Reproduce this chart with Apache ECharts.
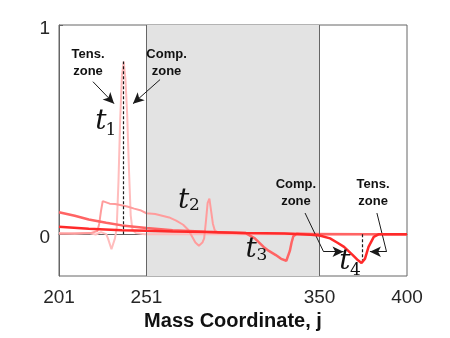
<!DOCTYPE html>
<html>
<head>
<meta charset="utf-8">
<script src="https://cdn.jsdelivr.net/npm/echarts@6/dist/echarts.min.js"></script>
<style>
  html, body { margin: 0; padding: 0; background: #fff; }
  #chart { width: 450px; height: 338px; }
</style>
</head>
<body>
<div id="chart"></div>
<script>
// mass coordinate ticks / value ticks
const xTicks = [201, 251, 350, 400];
const yTicks = [0, 1];

// t1 snapshot (lightest)
const t1J = [201, 210, 218, 222, 225, 228, 229, 231, 233, 234, 235, 236, 237, 238, 239, 240, 241, 242, 243, 245, 250, 300, 400];
const t1V = [0.005, 0.002, 0.005, -0.002, 0.01, 0.0, -0.02, -0.072, -0.02, 0.03, 0.25, 0.55, 0.76, 0.825, 0.74, 0.57, 0.31, 0.09, 0.02, 0.005, 0.0, 0.0, 0.0];

// t2 snapshot
const t2J = [201, 219, 223, 224, 225, 226, 230, 233, 236, 240, 244, 248, 251, 256, 260, 264, 268, 272, 275, 277, 279, 281, 282, 283, 284, 285, 286, 287, 288, 289, 290, 292, 400];
const t2V = [0.002, 0.005, 0.015, 0.05, 0.11, 0.158, 0.146, 0.144, 0.139, 0.132, 0.122, 0.113, 0.1, 0.096, 0.088, 0.08, 0.065, 0.045, 0.02, -0.01, -0.04, -0.055, -0.05, -0.04, -0.02, 0.06, 0.15, 0.17, 0.11, 0.05, 0.02, 0.005, 0.0];

// t3 snapshot
const t3J = [201, 210, 218, 228, 237, 251, 266, 285, 300, 308, 313, 318, 321, 325, 328, 331, 332, 333, 334, 335, 337, 345, 400];
const t3V = [0.105, 0.088, 0.07, 0.055, 0.042, 0.03, 0.019, 0.011, 0.007, 0.004, -0.02, -0.061, -0.08, -0.1, -0.118, -0.127, -0.12, -0.08, -0.04, -0.01, 0.002, 0.0, 0.0];

// t4 snapshot
const t4J = [201, 218, 237, 251, 266, 285, 308, 330, 345, 350, 356, 360, 364, 369, 372, 374, 375, 376, 378, 381, 384, 400];
const t4V = [0.035, 0.026, 0.019, 0.016, 0.013, 0.01, 0.006, 0.003, -0.003, -0.006, -0.02, -0.04, -0.061, -0.1, -0.125, -0.138, -0.14, -0.117, -0.061, -0.013, 0.0, 0.0];

const zip = (a, b) => a.map((x, i) => [x, b[i]]);

const chart = echarts.init(document.getElementById('chart'));

const lineSeries = (name, j, v, color, w, z) => ({
  name: name,
  type: 'line',
  data: zip(j, v),
  showSymbol: false,
  symbol: 'none',
  z: z,
  lineStyle: { color: color, width: w },
  silent: true
});

const black = '#1a1a1a';
const arrow = (pts) => {
  // leader made of segments, arrowhead at the last point
  const segs = [];
  for (let i = 0; i < pts.length - 1; i++) {
    segs.push([
      { coord: pts[i], symbol: 'none' },
      { coord: pts[i + 1], symbol: i === pts.length - 2 ? 'arrow' : 'none' }
    ]);
  }
  return segs;
};

const option = {
  animation: false,
  grid: {
    left: 59, right: 43, top: 25, bottom: 62,
    show: true, borderColor: '#666', borderWidth: 1, backgroundColor: 'transparent'
  },
  xAxis: {
    type: 'value',
    min: 201, max: 400,
    name: 'Mass Coordinate, j',
    nameLocation: 'middle',
    nameGap: 35,
    nameTextStyle: { fontFamily: 'Liberation Sans, Arial', fontWeight: 'bold', fontSize: 20, color: '#111' },
    axisLine: { show: true, lineStyle: { color: '#666' } },
    axisTick: { show: false },
    splitLine: { show: false },
    axisLabel: {
      customValues: xTicks,
      fontFamily: 'Liberation Sans, Arial', fontSize: 19, color: '#262626', margin: 12
    }
  },
  yAxis: {
    type: 'value',
    min: -0.2, max: 1,
    axisLine: { show: true, lineStyle: { color: '#666' } },
    axisTick: { show: true, inside: true, length: 4, customValues: yTicks, lineStyle: { color: '#666' } },
    splitLine: { show: false },
    axisLabel: {
      customValues: yTicks,
      margin: 9,
      formatter: '{v|{value}}',
      rich: {
        v: { fontFamily: 'Liberation Sans, Arial', fontSize: 19, color: '#262626', padding: [7, 0, 0, 0] }
      }
    }
  },
  series: [
    Object.assign(lineSeries('t1', t1J, t1V, '#ffbdbd', 2, 2), {
      markArea: {
        silent: true,
        itemStyle: { color: '#e3e3e3' },
        data: [[{ xAxis: 251, yAxis: -0.2 }, { xAxis: 350, yAxis: 1 }]]
      },
      markLine: {
        silent: true,
        symbol: 'none',
        label: { show: false },
        lineStyle: { color: '#666', width: 1, type: 'solid' },
        data: [
          [{ coord: [251, -0.2] }, { coord: [251, 1] }],
          [{ coord: [350, -0.2] }, { coord: [350, 1] }]
        ]
      }
    }),
    lineSeries('t2', t2J, t2V, '#ff9c9c', 2, 3),
    lineSeries('t3', t3J, t3V, '#ff6464', 2.5, 4),
    Object.assign(lineSeries('t4', t4J, t4V, '#ff2a2a', 2.5, 5), {
      markLine: {
        silent: true,
        symbolSize: [8, 11],
        label: { show: false },
        lineStyle: { color: black, width: 1, type: 'solid' },
        data: [
          [{ coord: [238, 0], symbol: 'none', lineStyle: { type: [3, 2], width: 1.2 } },
           { coord: [238, 0.825], symbol: 'none' }],
          [{ coord: [374.5, 0], symbol: 'none', lineStyle: { type: [3, 2], width: 1.2 } },
           { coord: [374.5, -0.14], symbol: 'none' }]
        ]
          .concat(arrow([[220.4, 0.729], [232.5, 0.624]]))
          .concat(arrow([[258.8, 0.739], [243.3, 0.624]]))
          .concat(arrow([[341.7, 0.101], [352.3, -0.084], [363.7, -0.084]]))
          .concat(arrow([[382.8, 0.101], [388.3, -0.084], [378.8, -0.084]]))
      }
    })
  ]
};

chart.setOption(option);

// text annotations placed in data space
const px = (p) => chart.convertToPixel({ gridIndex: 0 }, p);
const zoneText = (str, p) => {
  const q = px(p);
  return {
    type: 'text', x: q[0], y: q[1], z: 100,
    style: {
      text: str, align: 'center', verticalAlign: 'middle',
      font: 'bold 13px "Liberation Sans", Arial', lineHeight: 17, fill: '#111'
    }
  };
};
const tLabel = (sub, pt, ps) => {
  const a = px(pt), b = px(ps);
  return [
    { type: 'text', x: a[0], y: a[1], z: 100,
      style: { text: 't', align: 'center', verticalAlign: 'middle',
        font: 'italic 28px "DejaVu Serif", serif', fill: '#111' } },
    { type: 'text', x: b[0], y: b[1], z: 100,
      style: { text: sub, align: 'center', verticalAlign: 'middle',
        font: '17px "DejaVu Serif", serif', fill: '#111' } }
  ];
};

chart.setOption({
  graphic: [
    zoneText('Tens.\nzone', [217.6, 0.818]),
    zoneText('Comp.\nzone', [262.5, 0.818]),
    zoneText('Comp.\nzone', [336.5, 0.197]),
    zoneText('Tens.\nzone', [380.6, 0.197])
  ]
    .concat(tLabel('1', [225, 0.537], [230.7, 0.494]))
    .concat(tLabel('2', [272.2, 0.158], [278.5, 0.138]))
    .concat(tLabel('3', [310.8, -0.072], [317.1, -0.103]))
    .concat(tLabel('4', [364.5, -0.13], [370.5, -0.173]))
});

window.addEventListener('resize', () => { chart.resize(); });
</script>
</body>
</html>
